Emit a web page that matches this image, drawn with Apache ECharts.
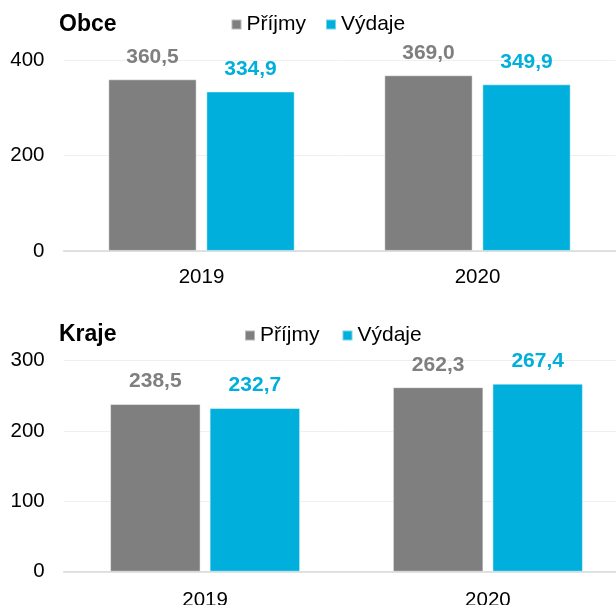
<!DOCTYPE html>
<html>
<head>
<meta charset="utf-8">
<script src="https://cdn.jsdelivr.net/npm/echarts@6/dist/echarts.min.js"></script>
<style>
	html, body { margin: 0; padding: 0; background: #fff; }
	#chart { width: 616px; height: 605px; }
</style>
</head>
<body>
<div id="chart"></div>
<script>
var years = ['2019', '2020'];
var obcePrijmy = [360.5, 369.0];
var obceVydaje = [334.9, 349.9];
var krajePrijmy = [238.5, 262.3];
var krajeVydaje = [232.7, 267.4];
var obceTicks = [0, 400, 200]; // min, max, interval
var krajeTicks = [0, 300, 100];

var font = 'Liberation Sans, Arial, sans-serif';
var gray = '#7f7f7f';
var blue = '#00afdb';

function fmt(p) { // desetinna carka
	return p.value.toFixed(1).replace('.', ',');
}

function barSeries(name, data, color, idx, gap) {
	return {
		name: name,
		type: 'bar',
		xAxisIndex: idx,
		yAxisIndex: idx,
		data: data,
		barWidth: '32%',
		barGap: gap,
		itemStyle: { color: color, borderColor: 'rgba(255,255,255,0.45)', borderWidth: 1 },
		label: {
			show: true,
			position: 'top',
			distance: 12,
			formatter: fmt,
			color: color,
			fontFamily: font,
			fontSize: 21,
			fontWeight: 'bold'
		}
	};
}

function xAx(idx, m) {
	return {
		type: 'category',
		gridIndex: idx,
		data: years,
		axisTick: { show: false },
		axisLine: { lineStyle: { color: '#d9d9d9', width: 1.5 } },
		axisLabel: { color: '#000', fontFamily: font, fontSize: 20.5, margin: m }
	};
}

function yAx(idx, t) {
	return {
		type: 'value',
		gridIndex: idx,
		min: t[0],
		max: t[1],
		interval: t[2],
		axisLine: { show: false },
		axisTick: { show: false },
		splitLine: { lineStyle: { color: '#efefef', width: 1 } },
		axisLabel: { color: '#000', fontFamily: font, fontSize: 20.5, margin: 19 }
	};
}

var option = {
	animation: false,
	title: [
		{ text: 'Obce', left: 59, top: 13, padding: 0, textStyle: { fontFamily: font, fontSize: 23, fontWeight: 'bold', color: '#000' } },
		{ text: 'Kraje', left: 59, top: 323, padding: 0, textStyle: { fontFamily: font, fontSize: 23, fontWeight: 'bold', color: '#000' } }
	],
	legend: [
		{
			data: ['Příjmy', 'Výdaje'], left: 230.5, top: 14, padding: 0,
			icon: 'rect', itemWidth: 10, itemHeight: 10, itemGap: 19,
			textStyle: { fontFamily: font, fontSize: 21, color: '#000' }
		},
		{
			data: ['Příjmy', 'Výdaje'], left: 244, top: 325, padding: 0,
			icon: 'rect', itemWidth: 10, itemHeight: 10, itemGap: 22,
			textStyle: { fontFamily: font, fontSize: 21, color: '#000' }
		}
	],
	grid: [
		{ left: 63.5, top: 60.5, right: 0.5, height: 190.4, outerBoundsMode: 'none' },
		{ left: 63.7, top: 360.7, right: -13.3, height: 211, outerBoundsMode: 'none' }
	],
	xAxis: [xAx(0, 15.5), xAx(1, 18)],
	yAxis: [yAx(0, obceTicks), yAx(1, krajeTicks)],
	series: [
		barSeries('Příjmy', obcePrijmy, gray, 0, '11%'),
		barSeries('Výdaje', obceVydaje, blue, 0, '11%'),
		barSeries('Příjmy', krajePrijmy, gray, 1, '10%'),
		barSeries('Výdaje', krajeVydaje, blue, 1, '10%')
	]
};

var chart = echarts.init(document.getElementById('chart'));
chart.setOption(option);
</script>
</body>
</html>
